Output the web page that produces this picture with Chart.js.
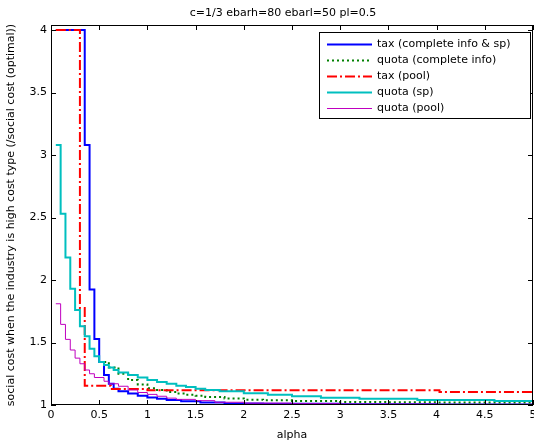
<!DOCTYPE html>
<html><head><meta charset="utf-8">
<script src="https://cdn.jsdelivr.net/npm/chart.js@4/dist/chart.umd.min.js"></script>
<style>html,body{margin:0;padding:0;background:#fff;}</style>
</head><body>
<canvas id="c" width="534" height="446"></canvas>
<script>
const chartTitle = "c=1/3 ebarh=80 ebarl=50 pl=0.5";
const xTitle = "alpha";
const yTitle = "social cost when the industry is high cost type (/social cost (optimal))";
const xTicks = [0,0.5,1,1.5,2,2.5,3,3.5,4,4.5,5];
const yTicks = [1,1.5,2,2.5,3,3.5,4];
const seriesNames = ["tax (complete info & sp)","quota (complete info)","tax (pool)","quota (sp)","quota (pool)"];

const taxSpAlpha = [0.05,0.35,0.4,0.45,0.5,0.55,0.6,0.65,0.7,0.8,0.9,1.0,1.1,1.2,1.35,1.55,1.8,2.2,3,4,5];
const taxSpCost  = [4,3.08,1.925,1.528,1.344,1.24,1.17,1.13,1.11,1.093,1.075,1.06,1.05,1.04,1.03,1.02,1.013,1.01,1.006,1.004,1.004];

const quotaCiAlpha = [0.5,0.6,0.7,0.8,0.9,1.0,1.1,1.2,1.3,1.4,1.5,1.6,1.8,2.0,2.2,2.5,3.0,3.5,4.0,5];
const quotaCiCost  = [1.345,1.30,1.25,1.20,1.165,1.135,1.12,1.105,1.092,1.082,1.075,1.064,1.052,1.043,1.038,1.032,1.025,1.022,1.02,1.02];

const taxPoolAlpha = [0.05,0.3,0.35,0.62,1.0,4.03,5];
const taxPoolCost  = [4,1.776,1.155,1.128,1.118,1.105,1.105];

const quotaSpAlpha = [0.05,0.1,0.15,0.2,0.25,0.3,0.35,0.4,0.45,0.5,0.55,0.6,0.65,0.7,0.8,0.9,1.0,1.1,1.2,1.3,1.4,1.5,1.6,1.75,2.0,2.25,2.5,2.8,3.2,3.8,4.6,5];
const quotaSpCost  = [3.08,2.53,2.18,1.93,1.76,1.63,1.55,1.45,1.39,1.345,1.32,1.30,1.28,1.26,1.24,1.22,1.2,1.185,1.17,1.155,1.145,1.13,1.12,1.11,1.095,1.082,1.07,1.058,1.05,1.04,1.033,1.033];

const quotaPoolAlpha = [0.05,0.1,0.15,0.2,0.25,0.3,0.35,0.4,0.45,0.55,0.6,0.7,0.8,0.9,1.0,1.1,1.2,1.3,1.5,1.7,2.0,2.5,3,4,5];
const quotaPoolCost  = [1.81,1.645,1.525,1.44,1.375,1.33,1.28,1.25,1.22,1.19,1.17,1.15,1.12,1.10,1.085,1.07,1.055,1.045,1.035,1.022,1.015,1.01,1.007,1.005,1.005];

const pts = (xs, ys) => xs.map((x,i)=>({x:x, y:ys[i]}));
const FONT = "'DejaVu Sans', sans-serif";

const styles = [
  {color:'#0000FF', width:2, dash:[]},
  {color:'#008000', width:2, dash:[2,3]},
  {color:'#FF0000', width:2, dash:[10,3,2,3]},
  {color:'#00BFBF', width:2, dash:[]},
  {color:'#BF00BF', width:1, dash:[]}
];
const dataPairs = [[taxSpAlpha,taxSpCost],[quotaCiAlpha,quotaCiCost],[taxPoolAlpha,taxPoolCost],[quotaSpAlpha,quotaSpCost],[quotaPoolAlpha,quotaPoolCost]];

const datasets = dataPairs.map((p,i)=>({
  label: seriesNames[i],
  data: pts(p[0],p[1]),
  borderColor: styles[i].color,
  backgroundColor: styles[i].color,
  borderWidth: styles[i].width,
  borderDash: styles[i].dash,
  stepped: true,
  pointRadius: 0,
  fill: false,
  order: 5 - i
}));

const framePlugin = {
  id:'frame',
  afterDraw(chart){
    const ctx = chart.ctx, a = chart.chartArea;
    const xs = chart.scales.x, ys = chart.scales.y;
    ctx.save();
    ctx.strokeStyle = '#000'; ctx.lineWidth = 1;
    ctx.strokeRect(Math.round(a.left)+0.5, Math.round(a.top)+0.5, Math.round(a.right-a.left)-1, Math.round(a.bottom-a.top)-1);
    ctx.beginPath();
    xTicks.forEach(v=>{
      const px = Math.round(xs.getPixelForValue(v))+0.5;
      ctx.moveTo(px, a.bottom); ctx.lineTo(px, a.bottom-5);
      ctx.moveTo(px, a.top); ctx.lineTo(px, a.top+5);
    });
    yTicks.forEach(v=>{
      const py = Math.round(ys.getPixelForValue(v))+0.5;
      ctx.moveTo(a.left, py); ctx.lineTo(a.left+5, py);
      ctx.moveTo(a.right, py); ctx.lineTo(a.right-5, py);
    });
    ctx.stroke();
    // title
    ctx.fillStyle = '#000';
    ctx.font = "11px " + FONT;
    ctx.textAlign = 'center'; ctx.textBaseline = 'middle';
    ctx.fillText(chartTitle, 283, 13);
    // legend
    const L = 319, T = 32, R = 531, B = 119;
    ctx.fillStyle = '#fff';
    ctx.fillRect(L, T, R-L, B-T);
    ctx.strokeStyle = '#000'; ctx.lineWidth = 1;
    ctx.strokeRect(L+0.5, T+0.5, R-L-1, B-T-1);
    datasets.forEach((d,i)=>{
      const y = Math.round(43.5 + i*16.2) + 0.5;
      ctx.beginPath();
      ctx.strokeStyle = d.borderColor;
      ctx.lineWidth = d.borderWidth;
      ctx.setLineDash(d.borderDash);
      ctx.moveTo(327, y); ctx.lineTo(372, y);
      ctx.stroke();
      ctx.setLineDash([]);
      ctx.fillStyle = '#000';
      ctx.textAlign = 'left'; ctx.textBaseline = 'middle';
      ctx.font = "11px " + FONT;
      ctx.fillText(d.label, 377, y);
    });
    ctx.restore();
  }
};

new Chart(document.getElementById('c'), {
  type:'line',
  data:{datasets},
  options:{
    responsive:false,
    devicePixelRatio:1,
    animation:false,
    layout:{padding:{top:25, right:1, left:0, bottom:0}},
    plugins:{legend:{display:false}, tooltip:{enabled:false}, title:{display:false}},
    scales:{
      x:{
        type:'linear', min:0, max:5,
        afterBuildTicks(s){ s.ticks = xTicks.map(v=>({value:v})); },
        afterFit(s){ s.height = 41; s.paddingLeft = 0; s.paddingRight = 0; },
        grid:{display:false, drawTicks:false},
        border:{display:false},
        ticks:{color:'#000', font:{family:FONT, size:11}, padding:4, maxRotation:0, autoSkip:false,
               callback:(v)=>String(v)},
        title:{display:true, text:xTitle, color:'#000', font:{family:FONT, size:11}, padding:{top:0,bottom:4}}
      },
      y:{
        type:'linear', min:1, max:4.04,
        afterBuildTicks(s){ s.ticks = yTicks.map(v=>({value:v})); },
        afterFit(s){ s.width = 51; s.paddingTop = 0; s.paddingBottom = 0; },
        grid:{display:false, drawTicks:false},
        border:{display:false},
        ticks:{color:'#000', font:{family:FONT, size:11}, padding:4, autoSkip:false,
               callback:(v)=>String(v)},
        title:{display:true, text:yTitle, color:'#000', font:{family:FONT, size:11}, padding:{top:5,bottom:0}}
      }
    }
  },
  plugins:[framePlugin]
});
</script>
</body></html>
